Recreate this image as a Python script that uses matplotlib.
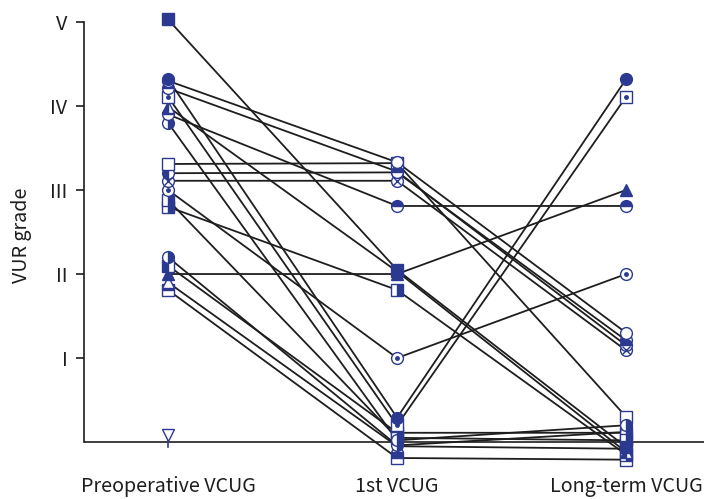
import numpy as np
import matplotlib.pyplot as plt

plt.rcParams['font.family'] = ['Noto Sans CJK KR', 'DejaVu Sans']

# time points
phases = ['Preoperative VCUG', '1st VCUG', 'Long-term VCUG']
grade_ticks = [1, 2, 3, 4, 5]
grade_labels = ['I', 'II', 'III', 'IV', 'V']

# VUR grade of each patient at the three time points (small offsets as in the figure)
pre = [5.03, 4.32, 4.30, 4.21, 4.11, 3.99, 3.90, 3.80, 3.31, 3.20, 3.11, 3.00,
       2.88, 2.80, 2.20, 2.10, 2.00, 1.90, 1.81]
first = [2.05, 0.29, 3.33, 3.22, 0.20, 2.03, 2.81, 0.02, 3.32, 3.21, 3.11, 1.00,
         0.05, 1.81, -0.04, 0.11, 2.00, -0.05, -0.19]
longterm = [-0.06, 4.32, 1.30, 1.15, 4.11, -0.12, 2.81, 0.20, 0.30, 1.21, 1.09, 2.00,
            0.02, -0.15, 0.12, 0.11, 3.00, -0.08, -0.21]

# patient with grade 0 only shown preoperatively
pre_zero = [0.0]

# marker style per patient: (shape, fill, decoration)
styles = [('s', 'full', None), ('o', 'full', None), ('o', 'none', None),
          ('o', 'top', None), ('s', 'none', 'dot'), ('^', 'left', None),
          ('o', 'top', None), ('o', 'right', None), ('s', 'none', None),
          ('o', 'left', None), ('o', 'none', 'x'), ('o', 'none', 'dot'),
          ('s', 'right', None), ('s', 'right', None), ('o', 'right', None),
          ('s', 'left', None), ('^', 'full', None), ('^', 'none', None),
          ('s', 'top', None)]

blue = '#2b3990'
ink = '#1e1e1e'

fig = plt.figure(figsize=(7.04, 4.99), dpi=100)
ax = fig.add_axes([84/704, 29/499, 620/704, 470/499])

x = np.arange(len(phases))

# lines first
for i in range(len(pre)):
    ax.plot(x, [pre[i], first[i], longterm[i]], color=ink, lw=1.3, zorder=2)


def draw_marker(xv, yv, shape, fill, deco):
    if fill == 'none':
        kw = dict(markerfacecolor='white', fillstyle='full')
    else:
        kw = dict(markerfacecolor=blue, fillstyle=fill, markerfacecoloralt='white')
    ax.plot(xv, yv, marker=shape, ls='none', ms=8.5, mec=blue, mew=1, zorder=3, **kw)
    if deco == 'dot':
        ax.plot(xv, yv, marker='o', ls='none', ms=2.5, color=blue, zorder=4)
    elif deco == 'x':
        ax.plot(xv, yv, marker='x', ls='none', ms=6, mew=1, color=blue, zorder=4)


# draw markers in reverse so upper entries sit on top
for i in reversed(range(len(pre))):
    shape, fill, deco = styles[i]
    draw_marker(x, [pre[i], first[i], longterm[i]], shape, fill, deco)

# grade 0 patient: open down triangle with stem
for v in pre_zero:
    ax.plot([0, 0], [v - 0.06, v + 0.05], color=blue, lw=1.2, zorder=3)
    ax.plot(0, v + 0.08, marker='v', ms=8.5, mfc='white', mec=blue, mew=1, zorder=4)

ax.axhline(0, color=ink, lw=1.2, zorder=1)

ax.set_xlim(-0.367, 2.34)
ax.set_ylim(-0.333, 5.262)
ax.spines['top'].set_visible(False)
ax.spines['right'].set_visible(False)
ax.spines['bottom'].set_visible(False)
ax.spines['left'].set_bounds(0, 5)
ax.spines['left'].set_color(ink)
ax.spines['left'].set_linewidth(1.2)

ax.set_xticks(x)
ax.set_xticklabels(phases, fontsize=14.2, color=ink)
ax.tick_params(axis='x', length=0, pad=4)
ax.set_yticks(grade_ticks)
ax.set_yticklabels(grade_labels, fontsize=14.2, color=ink)
ax.tick_params(axis='y', length=6, width=1.2, pad=6, color=ink)
ax.set_ylabel('VUR grade', fontsize=14.2, color=ink, labelpad=13)

fig.savefig('out.png', dpi=100)
